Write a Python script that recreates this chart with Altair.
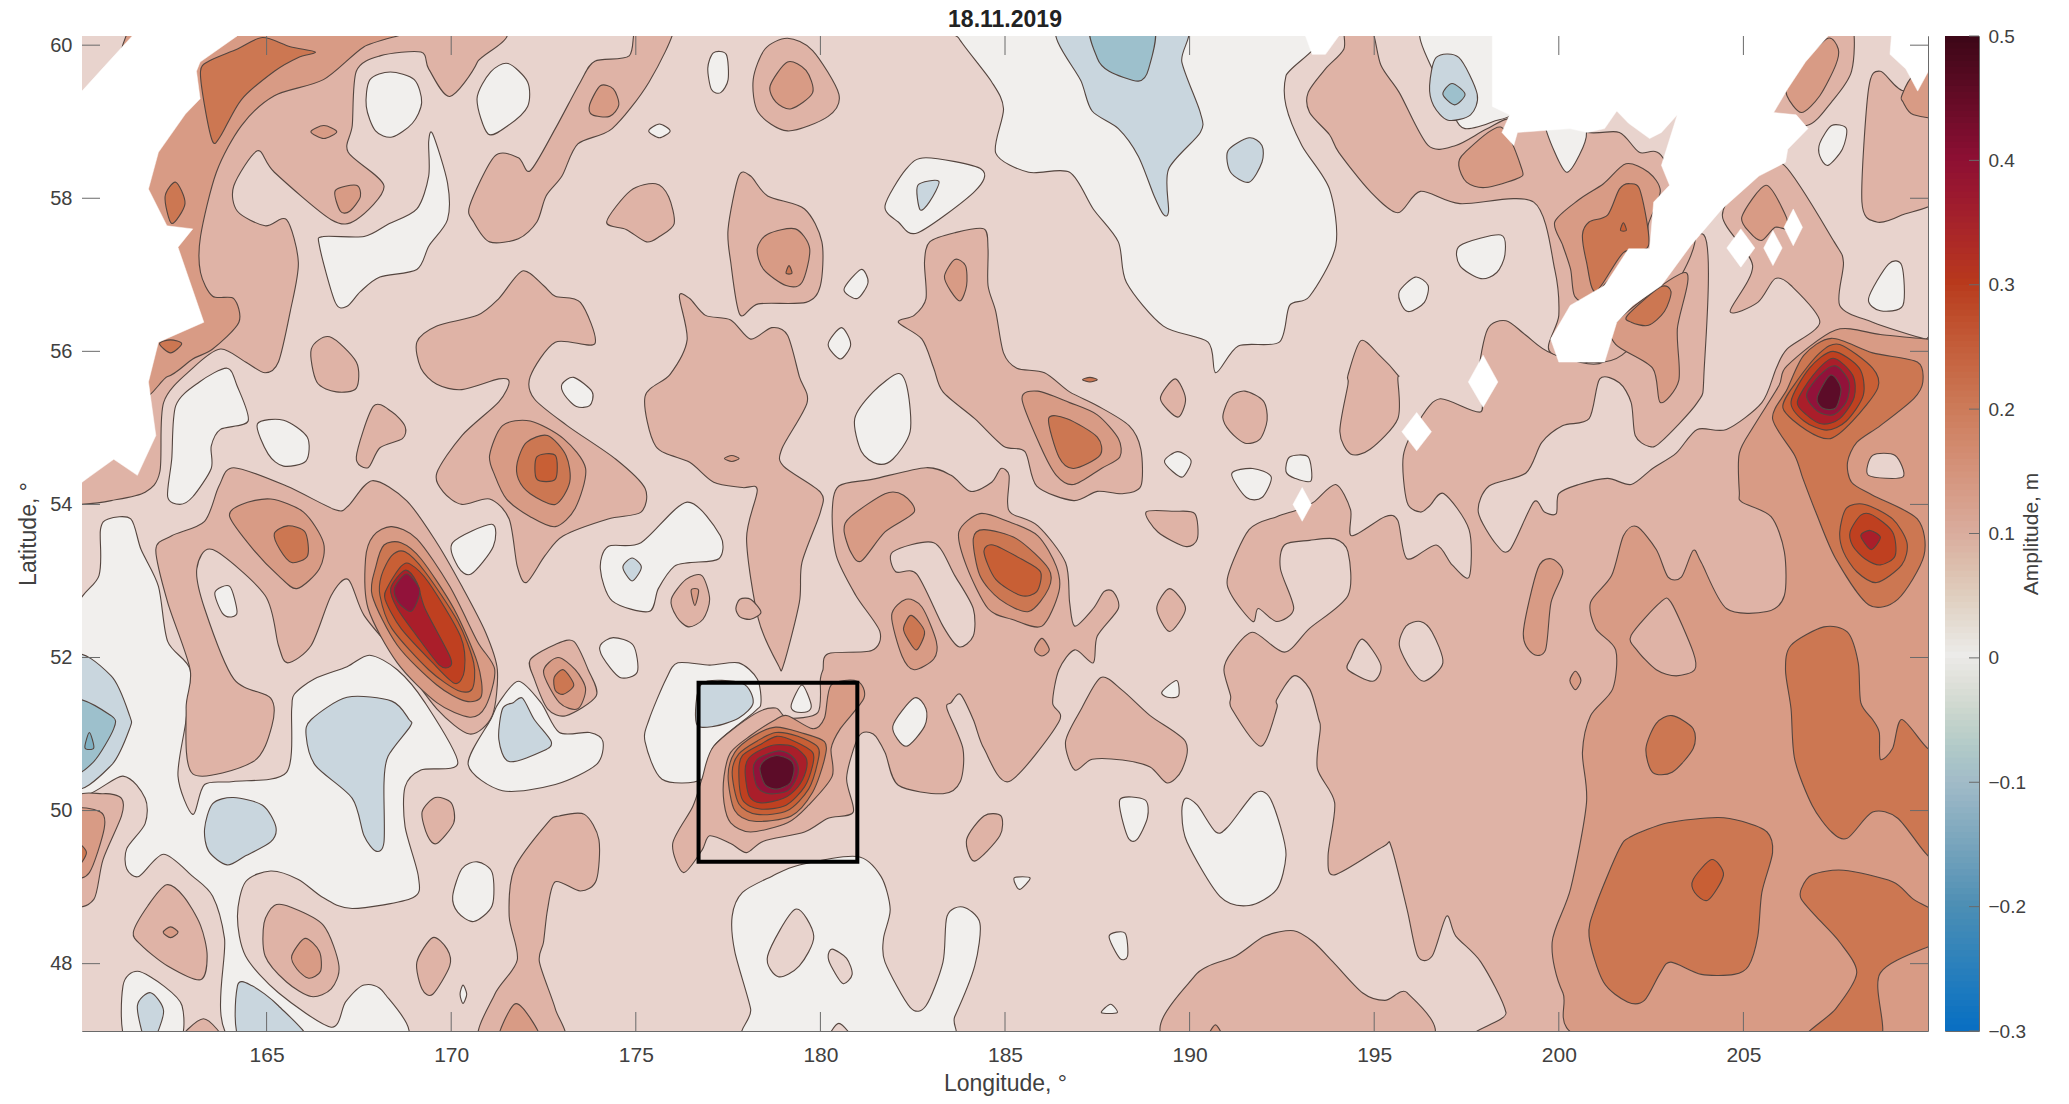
import altair as alt
import pandas as pd

alt.data_transformers.disable_max_rows()

TITLE = "18.11.2019"
LON_TICKS = [165, 170, 175, 180, 185, 190, 195, 200, 205]
LAT_TICKS = [48, 50, 52, 54, 56, 58, 60]
CB_TICKS = [-0.3, -0.2, -0.1, 0, 0.1, 0.2, 0.3, 0.4, 0.5]
CB_STOPS = [-0.3, -0.2, -0.1, 0, 0.1, 0.2, 0.3, 0.4, 0.5]
CB_COLORS = ["#0a6fc2", "#4e8fb4", "#a3bcc8", "#ecebe9", "#d9ab9c", "#cc7a58", "#b8391c", "#8c0f33", "#3a0716"]
BAND_NAMES = ["n15", "n10", "n05", "z00", "p05", "p10", "p15", "p20", "p25", "p30", "p35", "p40", "p45"]
BAND_COLORS = ["#7fb0c2", "#9dc0cc", "#c9d6de", "#f1efed", "#e8d3cd", "#dfb3a6", "#d89b85", "#cc7752", "#c85f35", "#bf4020", "#aa1e2a", "#92123a", "#5c0c28"]
BOX_LON = [176.7, 181.0]
BOX_LAT = [49.33, 51.67]

zero_regions = [
 [(167.8,59.55),(168.35,59.65),(169,59.55),(169.2,59.25),(168.95,58.98),(168.4,58.8),(167.95,58.88),(167.7,59.2)],
 [(170.7,59.3),(171.07,59.65),(171.54,59.76),(172.07,59.52),(172.07,59.2),(171.54,58.95),(171,58.84)],
 [(175.35,58.88),(175.64,58.97),(175.93,58.88),(175.64,58.79)],
 [(176.95,59.7),(177.1,59.9),(177.45,59.88),(177.5,59.55),(177.3,59.38),(177.05,59.42)],
 [(169.5,58.84),(169.9,58.2),(169.9,57.72),(169.4,57.38),(169.07,57.07),(168.07,56.97),(167.54,56.78),(167.18,56.59),(166.86,56.64),(166.43,57.38),(166.54,57.5),(167.64,57.5),(168.29,57.66),(169.07,57.86),(169.39,58.29),(169.39,58.74)],
 [(162.43,54.59),(162.32,54.1),(162.65,54),(163,54.1),(163.5,54.47),(163.5,54.76),(163.75,54.98),(164.5,55.09),(164.2,55.55),(163.93,55.78),(163.18,55.6),(162.54,55.29)],
 [(164.75,55.05),(165.46,55.1),(166.1,54.88),(166.07,54.57),(165.46,54.5),(165.04,54.66)],
 [(173,55.57),(173.32,55.66),(173.82,55.47),(173.75,55.29),(173.39,55.28),(173.07,55.43)],
 [(170.04,53.5),(171.1,53.74),(171.14,53.45),(170.54,53.09),(170.18,53.19)],
 [(163.6,52.85),(164,52.93),(164.2,52.6),(164.05,52.53),(163.8,52.58)],
 [(159.75,52.47),(160.46,53.07),(160.5,53.67),(160.71,53.81),(161.32,53.81),(161.6,53.41),(162.07,52.93),(162.32,52.21),(162.93,51.84),(162.82,51.19),(162.6,50.45),(163,49.95),(163.32,50.34),(164.1,50.38),(165.54,50.5),(165.68,51.33),(165.75,51.52),(166.29,51.72),(167.18,51.88),(167.79,52.03),(168.54,51.84),(169.29,51.41),(170.18,50.62),(169.18,50.53),(168.75,50.31),(168.75,49.79),(169.11,49.14),(168.96,48.86),(167.32,48.72),(166.54,48.86),(165.86,49.1),(165.11,49.21),(164.43,49.07),(164.21,48.62),(164.43,48.1),(165.32,47.62),(166.75,47.17),(167.14,47.5),(167.64,47.72),(168.18,47.62),(168.68,46.98),(164.11,46.98),(163.86,48.33),(163.54,48.88),(163,49.14),(162.21,49.43),(161.54,49.14),(161.21,49.24),(161.21,49.5),(161.71,49.83),(161.71,50.16),(161.11,50.45),(159.75,50.28)],
 [(170.46,50.6),(171.39,50.26),(172.82,50.34),(173.93,50.6),(174.11,50.9),(173.75,51.02),(172.93,51.02),(172.43,51.41),(171.82,51.69),(171.29,51.41),(171.07,51.19)],
 [(161.11,47.71),(161.5,47.9),(162.21,47.71),(162.71,47.45),(162.61,46.98),(161.21,46.98)],
 [(183.75,60.26),(193.14,60.26),(192.61,59.6),(192.61,59.21),(193.04,58.69),(193.79,58.12),(193.96,57.38),(193.25,56.72),(192.71,56.6),(192.43,56.12),(191.32,56.07),(190.71,55.72),(190.5,56.12),(189.29,56.33),(188.29,56.9),(188.07,57.43),(187.39,57.86),(186.75,58.34),(185.64,58.34),(184.75,58.59),(184.96,59.17),(184.64,59.52),(183.75,60.09)],
 [(181.75,57.9),(182.32,58.38),(182.86,58.53),(184.36,58.38),(184.18,58.09),(182.64,57.55),(182.11,57.69)],
 [(180.64,56.81),(181.1,57.07),(181.29,56.9),(181,56.69)],
 [(180.21,56.09),(180.57,56.31),(180.82,56.09),(180.54,55.9)],
 [(180.93,55.12),(181.43,55.47),(182.11,55.71),(182.36,55.5),(182.43,54.95),(181.96,54.59),(181.54,54.53),(181.11,54.69)],
 [(174.04,53.16),(174.25,53.45),(175.14,53.5),(176.39,54.03),(177.29,53.59),(177.25,53.29),(176.46,53.24),(176.04,53.19),(175.61,52.9),(175.36,52.6),(174.36,52.74)],
 [(174.04,52.16),(174.39,52.26),(174.93,52.16),(175.04,51.81),(174.57,51.74),(174.11,52)],
 [(175.82,51.72),(176.14,51.93),(177,51.9),(177.79,51.93),(178.29,51.72),(178.39,51.41),(178.21,51.29),(177.11,50.84),(176.79,50.41),(175.71,50.41),(175.25,50.9),(175.36,51.19)],
 [(179.21,51.38),(179.5,51.64),(179.75,51.38),(179.64,51.29),(179.32,51.29)],
 [(177.61,48.62),(177.89,48.93),(178.68,49.14),(179.43,49.29),(181,49.4),(181.64,49.14),(181.89,48.71),(181.71,48.33),(181.75,48.02),(182.43,47.43),(182.86,47.45),(183.32,48.02),(183.43,48.62),(183.86,48.74),(184.32,48.53),(184.18,47.97),(183.64,47.31),(183.25,46.98),(178.18,46.98),(178.11,47.41),(177.68,48.16)],
 [(189.79,49.98),(189.89,50.16),(190.21,50.07),(190.71,49.72),(191.04,49.79),(191.75,50.22),(192.14,50.19),(192.46,49.79),(192.61,49.41),(192.36,48.97),(191.61,48.76),(190.82,48.88),(189.93,49.59)],
 [(188.11,50.14),(188.79,50.14),(188.86,49.91),(188.57,49.62),(188.32,49.66)],
 [(187.82,48.36),(188.25,48.4),(188.32,48.1),(188.11,48.07)],
 [(185.25,49.12),(185.68,49.12),(185.39,48.97)],
 [(187.61,47.36),(187.86,47.47),(188.04,47.36)],
 [(170.04,48.88),(170.29,49.24),(170.71,49.33),(171.11,49.19),(171.11,48.76),(170.61,48.55),(170.18,48.67)],
 [(170.24,47.6),(170.32,47.72),(170.42,47.6),(170.32,47.48)],
 [(189.32,54.57),(189.68,54.69),(190.04,54.57),(189.82,54.36),(189.54,54.43)],
 [(191.14,54.4),(191.71,54.47),(192.21,54.36),(191.96,54.09),(191.54,54.09)],
 [(192.71,54.62),(193.21,54.62),(193.29,54.31),(192.86,54.34),(192.61,54.43)],
 [(189.25,51.55),(189.65,51.7),(189.7,51.5),(189.4,51.48)],
 [(196.32,60.26),(196.68,59.57),(197.14,59.09),(197.46,58.91),(198.21,59),(198.89,59.21),(198.89,60.26)],
 [(197.32,57.38),(198.43,57.52),(198.54,57.26),(198.32,57.03),(197.89,56.95),(197.32,57.12)],
 [(195.68,56.78),(196.11,56.97),(196.46,56.86),(196.36,56.64),(195.96,56.52),(195.75,56.6)],
 [(207.07,58.72),(207.39,58.95),(207.79,58.91),(207.68,58.64),(207.29,58.43),(207.07,58.55)],
 [(208.39,56.69),(208.93,57.14),(209.29,57.12),(209.32,56.6),(208.71,56.53)],
]

neg05_regions = [
 [(159.75,51.98),(160.79,51.76),(161.29,51.24),(161.29,51.07),(160.79,50.59),(159.75,50.34)],
 [(166.21,51.19),(167.18,51.48),(168.39,51.43),(168.86,51.19),(168.89,51.1),(168.29,50.71),(168.18,50.36),(168.18,49.59),(167.96,49.47),(167.64,49.67),(167.32,50.16),(166.32,50.59),(166.07,50.98)],
 [(163.32,49.76),(163.54,50.09),(164.1,50.17),(164.89,50.07),(165.25,49.79),(165.11,49.59),(164.43,49.41),(163.93,49.29),(163.43,49.47)],
 [(171.93,51.47),(172.25,51.19),(172.71,50.9),(172.5,50.78),(171.57,50.64),(171.29,50.93),(171.39,51.33),(171.68,51.41)],
 [(161.5,47.45),(161.86,47.62),(162.21,47.38),(161.93,46.98),(161.71,46.98)],
 [(164.21,47.71),(164.61,47.71),(165.32,47.45),(166.11,46.98),(164.32,46.98)],
 [(186.46,60.26),(187.07,59.52),(187.36,59.14),(188.07,58.91),(188.61,58.55),(189.04,58.03),(189.29,57.79),(189.43,57.83),(189.43,58.38),(190.29,58.86),(190.29,59.12),(189.79,59.78),(189.79,60.26)],
 [(191.04,58.62),(191.61,58.79),(191.96,58.69),(191.96,58.47),(191.61,58.21),(191.11,58.34)],
 [(182.64,58.17),(183.21,58.22),(182.95,57.95),(182.7,57.85)],
 [(174.65,53.18),(174.9,53.3),(175.15,53.18),(174.9,53.0)],
 [(176.79,51.66),(177.89,51.66),(178.18,51.41),(177.79,51.21),(177.11,51.1),(176.64,51.14)],
 [(196.5,59.47),(196.68,59.84),(197.29,59.84),(197.79,59.36),(197.61,59.09),(197,59.02),(196.61,59.21)],
]

neg10_regions = [
 [(159.75,51.43),(160.79,51.24),(160.86,51.07),(160.32,50.64),(159.75,50.52)],
 [(187.36,60.26),(187.5,59.83),(187.82,59.66),(188.61,59.53),(188.89,59.69),(189,60.26)],
 [(196.86,59.36),(197.11,59.5),(197.46,59.36),(197.18,59.22)],
]

neg15_regions = [
 [(160.08,50.82),(160.2,51.02),(160.32,50.82)],
]

p05_islands = [
 [(178.57,48.1),(179.32,48.71),(179.82,48.36),(179.43,47.97),(178.86,47.83)],
 [(180.21,48.1),(180.32,48.19),(180.71,48.07),(180.86,47.86),(180.61,47.74),(180.29,47.97)],
 [(180.2,46.98),(180.5,47.22),(180.9,46.98)],
]

p10_regions = [
 [(170.82,60.26),(170.71,59.78),(169.96,59.33),(169.39,59.69),(169.18,59.91),(168.07,59.86),(167.43,59.66),(167.32,58.95),(167.21,58.6),(168.18,58.16),(167.43,57.72),(166.75,57.72),(165.21,58.34),(164.75,58.62),(164.11,58.16),(164.21,57.83),(164.96,57.64),(165.54,57.72),(165.86,57.16),(165.64,56.52),(165.32,55.86),(164.96,55.72),(164.43,55.86),(163.75,56.03),(163,55.78),(162.21,55.33),(162.11,54.43),(161.71,54.16),(160.79,54.05),(160,54),(159.57,54),(159.57,60.26)],
 [(170.5,57.9),(171.18,58.55),(171.82,58.53),(172.14,58.36),(172.82,58.91),(173.5,59.52),(173.89,59.79),(174.82,59.86),(175.04,60.26),(176.04,60.26),(175.36,59.52),(174.36,58.91),(173.43,58.71),(173,58.29),(172.57,58.03),(172.32,57.69),(171.82,57.47),(171.04,57.43),(170.61,57.69)],
 [(174.21,57.69),(174.86,58.1),(175.54,58.19),(175.89,58.02),(176.04,57.67),(175.64,57.5),(175.29,57.43),(174.75,57.59)],
 [(166.21,56.03),(166.71,56.19),(167.43,55.86),(167.43,55.52),(166.89,55.47),(166.36,55.6)],
 [(169.07,56.12),(169.61,56.33),(170.71,56.47),(171.29,56.69),(171.93,57.05),(172.5,56.86),(172.82,56.72),(173.5,56.64),(173.89,56.1),(172.82,56.12),(172.14,55.67),(172.25,55.38),(173.14,55.03),(174.46,54.59),(175.25,54.21),(175.14,53.9),(174.25,53.81),(173.04,53.59),(172.54,53.33),(172.04,52.98),(171.79,53.19),(171.57,53.81),(171.04,54.07),(170.29,54),(169.79,54.16),(169.61,54.41),(170.29,54.9),(171.29,55.34),(171.57,55.6),(171.29,55.64),(170.29,55.5),(169.61,55.57),(169.18,55.78)],
 [(162,53.41),(162.43,53.59),(163.32,53.78),(163.71,54.24),(164.11,54.48),(165.54,54.24),(166.86,53.93),(167.21,53.98),(167.86,54.31),(168.79,54.05),(169.61,53.5),(170.29,52.93),(170.93,52.33),(171.25,51.84),(171.11,51.24),(170.5,51),(169.61,51.33),(168.54,52.02),(167.64,52.55),(167.21,53.02),(166.75,52.81),(166.21,52.16),(165.57,51.93),(165.32,52.16),(164.96,52.81),(163.54,53.41),(163.11,53.16),(163.32,52.64),(164.11,51.72),(165.11,51.47),(165.14,51.1),(164.64,50.64),(163,50.48),(162.82,51.33),(162.93,51.84),(162.32,52.72)],
 [(172.14,51.97),(172.82,52.17),(173.32,52.21),(173.71,51.84),(173.93,51.5),(173.11,51.24),(172.61,51.33),(172.25,51.72)],
 [(167.89,55.28),(168.39,55.21),(168.75,55.02),(168.68,54.86),(168.07,54.74),(167.75,54.48),(167.43,54.62)],
 [(159.75,50.1),(160.57,50.22),(161.07,50.16),(161.07,49.93),(160.57,49.36),(160.32,48.84),(159.75,48.84)],
 [(161.39,48.41),(161.79,48.76),(162.29,49.03),(162.75,48.88),(163.21,48.5),(163.39,48.1),(163.21,47.79),(162.32,47.97),(161.61,48.24)],
 [(164.93,48.53),(165.21,48.76),(165.64,48.74),(166.54,48.5),(166.96,47.97),(166.75,47.67),(166.21,47.57),(165.54,47.76),(164.96,48.1)],
 [(169.21,49.98),(169.57,50.17),(170,50.1),(170.07,49.84),(169.61,49.57),(169.36,49.67)],
 [(169.07,48.02),(169.5,48.34),(169.89,48.19),(169.96,47.97),(169.5,47.6),(169.21,47.67)],
 [(170.79,46.98),(171.18,47.6),(171.79,48.05),(171.57,48.62),(171.71,49.24),(172.61,49.84),(172.93,49.93),(173.61,49.95),(174,49.62),(173.93,49.09),(173.5,48.95),(172.82,49.07),(172.61,48.71),(172.5,48.28),(172.39,48.02),(172.82,47.41),(173,46.98)],
 [(162.64,46.98),(163.29,47.28),(163.82,46.98)],
 [(178.18,59.55),(178.5,59.95),(179.11,60.09),(179.79,59.93),(180.5,59.36),(180.21,59.07),(179.11,58.88),(178.32,59.12)],
 [(177.5,57.6),(177.79,58.29),(178.11,58.29),(178.57,58.03),(179.57,57.86),(180.04,57.43),(180,56.86),(179.61,56.64),(178.32,56.62),(177.82,56.48),(177.57,57.17)],
 [(182.11,56.38),(182.54,56.47),(182.86,56.69),(182.82,57.17),(182.96,57.43),(183.64,57.55),(184.43,57.6),(184.54,57.34),(184.54,56.86),(184.75,56.52),(184.96,55.98),(185.32,55.78),(186.07,55.72),(186.75,55.47),(187.5,55.29),(188.36,55.03),(188.68,54.72),(188.68,54.24),(188.18,54.14),(187.5,54.17),(186.86,54.05),(185.86,54.24),(185.54,54.69),(184.96,54.76),(184.18,55.12),(183.32,55.47),(183.07,55.78),(182.75,56.16)],
 [(189.21,55.38),(189.61,55.64),(189.89,55.38),(189.68,55.14)],
 [(190.9,55.14),(191.1,55.4),(191.5,55.48),(192,55.35),(192.1,55.1),(191.9,54.85),(191.5,54.8),(191.1,54.95)],
 [(176.18,56.72),(176.46,56.69),(176.89,56.47),(177.57,56.41),(178.11,56.16),(178.68,56.31),(179.11,56.21),(179.43,55.67),(179.64,55.33),(178.96,54.73),(179,54.5),(180,54.16),(180,53.9),(179.5,53.24),(179.43,52.72),(179,51.9),(178.86,51.9),(178.32,52.5),(178,53.55),(178.29,54.19),(177.89,54.22),(177.11,54.29),(176.46,54.55),(175.54,54.76),(175.25,55.41),(175.93,55.7),(176.39,56.15)],
 [(177.71,52.64),(177.82,52.76),(178.11,52.76),(178.39,52.59),(178.11,52.5),(177.82,52.53)],
 [(175.96,52.76),(176.36,53.02),(176.79,53.07),(177,52.76),(176.82,52.5),(176.43,52.4),(176.11,52.53)],
 [(180.32,53.9),(180.5,54.24),(181.43,54.33),(182.86,54.48),(183.54,54.38),(184.07,54.17),(184.64,54.29),(184.89,54.47),(185.11,54.38),(185.07,54.03),(185.18,53.88),(185.89,53.72),(186.64,53.24),(186.75,52.72),(186.89,52.41),(187.39,52.64),(187.68,52.86),(187.93,52.86),(188.07,52.64),(187.5,52.28),(187.39,51.93),(186.89,52.1),(186.46,51.84),(186.29,51.41),(186.46,51.16),(185.11,50.38),(184.43,50.81),(184.14,51.19),(183.79,51.52),(183.54,51.41),(183.43,51.33),(183.86,50.81),(183.79,50.38),(183.32,50.22),(182.11,50.33),(181.75,50.76),(181.43,51),(181.04,50.97),(180.71,50.43),(180.89,49.98),(180.21,49.9),(179.57,49.72),(178.46,49.6),(178,49.45),(177.57,49.57),(177,49.67),(176.79,49.48),(176.29,49.19),(176,49.57),(176.54,50.05),(176.79,50.41),(177.11,50.84),(178.21,51.26),(178.79,51.34),(179.11,51.21),(179.93,51.28),(180,51.72),(180.07,51.84),(180.21,52.05),(181.39,52.09),(181.61,52.34),(180.96,52.81),(180.43,53.33)],
 [(189.11,52.64),(189.46,52.9),(189.89,52.64),(189.46,52.34)],
 [(188.82,53.9),(189.57,53.91),(190.14,53.88),(190.21,53.55),(189.89,53.45),(189.14,53.64)],
 [(187.6,51.74),(188.18,51.57),(188.93,51.24),(189.89,50.9),(189.79,50.53),(189.39,50.36),(188.93,50.57),(188.18,50.66),(187.36,50.67),(186.89,50.53),(186.64,50.9),(187.07,51.33)],
 [(183.96,49.62),(184.43,49.93),(184.89,49.93),(184.86,49.67),(184.18,49.34)],
 [(189.5,46.98),(190.14,47.84),(191.25,48.1),(192.04,48.36),(192.82,48.43),(193.36,48.28),(193.89,48.02),(194.68,47.62),(195.29,47.52),(195.89,47.62),(196.32,46.98)],
 [(195.79,54.64),(196.25,55.12),(196.79,55.38),(197.89,55.21),(197.82,55.69),(198.07,56.29),(198.57,56.4),(199.11,56.21),(199.79,55.98),(201.21,55.86),(202.07,56.64),(203.93,57.52),(203.93,55.69),(203.75,55.33),(202.75,54.81),(202.43,54.76),(202.07,54.9),(201.96,55.33),(201.64,55.59),(201.11,55.64),(200.82,55.12),(200.11,55.03),(199.54,54.81),(199.11,54.41),(198.11,54.24),(197.82,53.9),(198.32,53.47),(198.68,53.41),(199.32,54.03),(199.61,53.9),(199.93,53.88),(200,54.14),(200.54,54.26),(201.32,54.34),(201.96,54.26),(202.54,54.47),(203.18,54.67),(203.75,54.98),(204.54,54.98),(205.5,55.33),(205.89,55.78),(206.18,56.03),(207.07,56.38),(206.29,56.86),(205.86,56.95),(205.39,56.64),(204.64,56.52),(205.25,57.12),(204.43,57.78),(205.29,58.36),(206.11,58.43),(207.46,57.43),(207.71,57.16),(207.61,56.6),(208.5,56.38),(209.93,56.16),(210.46,56.16),(210.46,46.98),(198.32,46.98),(198.57,47.36),(197.89,48.02),(197.21,48.36),(196.96,48.62),(196.57,48.1),(196.18,48.1),(195.89,48.71),(195.46,49.53),(195.25,49.53),(193.93,49.16),(193.75,49.41),(193.93,50.1),(193.46,50.55),(193.54,51.07),(193.5,51.19),(193.25,51.59),(192.82,51.76),(192.36,51.45),(192.36,51.33),(191.93,50.84),(191.14,51.33),(191.11,51.5),(190.93,51.84),(191.14,52.07),(191.71,52.33),(192.57,52.07),(193.25,52.38),(194.29,52.81),(194.29,53.38),(193.93,53.55),(193.25,53.53),(192.57,53.47),(192.46,53.16),(192.82,52.64),(192.36,52.47),(191.86,52.64),(191.71,52.47),(191.14,52.81),(191.04,53.07),(191.61,53.67),(192.36,53.84),(192.93,53.93),(193.36,54.03),(193.96,54.26),(194.36,53.93),(194.39,53.59),(195.29,53.84),(195.64,53.79),(195.89,53.29),(196.68,53.47),(197.11,53.21),(197.57,53.05),(197.57,53.67),(196.89,54.14),(196.5,53.98),(196.25,53.9),(195.89,54.03)],
 [(193.21,59.38),(193.25,59.12),(193.79,58.83),(194.04,58.6),(194.89,58.09),(195.64,57.81),(196.25,58.09),(197.32,57.93),(199.32,57.95),(199.89,57.07),(200,56.47),(199.79,55.98),(201.71,55.95),(203.68,57.41),(202.82,58.53),(202.18,58.6),(201.64,58.86),(200.75,58.86),(198.86,59.05),(198.07,58.91),(197.21,58.69),(196.46,58.69),(195.68,59.38),(195.18,59.74),(194.89,60.26),(194.21,60.26),(194.18,59.95),(193.68,59.69)],
 [(208.21,57.95),(208.39,59.43),(208.71,59.66),(209.39,59.4),(210.46,59.74),(210.46,58.12),(209.29,57.78),(208.61,57.69)],
 [(207.07,60.26),(207.93,60.26),(207.93,59.66),(207.39,59.26),(206.71,58.95),(205.64,59.14),(206.18,59.57)],
 [(194.29,55.69),(194.64,56.14),(195.14,55.95),(195.64,55.69),(195.64,55.64),(195.64,55.12),(194.89,54.72),(194.36,54.66),(194.07,54.95),(194.29,55.57)],
]

p05_holes = [
 [(159.57,60.26),(161.36,60.26),(161.54,60),(160.82,59.57),(160,59.36),(159.57,59.36)],
 [(181.96,53.38),(183.07,53.5),(183.64,53.07),(184.14,52.64),(184.14,52.28),(183.75,52.14),(183.32,52.41),(182.61,53.09),(182.04,53.12)],
 [(194.36,51.98),(194.68,52.24),(195.18,51.9),(194.96,51.69),(194.29,51.84)],
 [(195.68,52.16),(195.86,52.41),(196.25,52.47),(196.57,52.33),(196.86,51.93),(196.36,51.69),(196,51.84)],
]

zero_holes = [
 [(181.96,51.1),(182.54,51.47),(182.86,51.33),(182.82,51.1),(182.32,50.84)],
 [(199.61,59),(199.89,58.6),(200.21,58.34),(200.54,58.55),(200.75,58.86),(200.43,59.34),(199.79,59.34)],
]

p15_regions = [
 [(168.86,60.26),(167.64,59.98),(166.54,59.55),(165.21,59.34),(164.32,58.95),(163.64,58.34),(163.21,57.5),(163.21,57.03),(163.54,56.72),(164.11,56.69),(164.25,56.38),(163.54,56.03),(163,55.9),(162.32,55.67),(161.36,55.67),(161.36,60.26)],
 [(166.2,58.87),(166.55,58.95),(166.9,58.87),(166.55,58.78)],
 [(166.86,58.1),(167.43,58.17),(167.54,58.02),(167.25,57.83),(167,57.83)],
 [(173.75,59.22),(174.04,59.47),(174.39,59.43),(174.54,59.22),(174.29,59.07),(173.82,59.09)],
 [(171.04,54.64),(171.39,55.03),(172.14,55.09),(173.04,54.86),(173.64,54.47),(173.36,53.95),(172.82,53.71),(172.14,53.84),(171.5,54.07),(171.18,54.38)],
 [(164,53.84),(164.32,54),(165.11,54.07),(166,53.9),(166.54,53.5),(166.43,53.16),(165.82,52.9),(165.32,53.07),(164.64,53.41)],
 [(167.68,53.29),(167.89,53.59),(168.39,53.71),(169.07,53.55),(169.96,52.93),(170.71,52.21),(171.18,51.84),(170.93,51.36),(170.5,51.22),(169.61,51.41),(168.54,51.93),(167.75,52.64)],
 [(172.5,51.81),(172.89,52),(173.36,51.84),(173.64,51.59),(173.43,51.33),(172.93,51.41)],
 [(159.75,49.98),(160.5,49.98),(160.6,49.76),(160.2,49.19),(159.75,49.19)],
 [(162.2,48.41),(162.4,48.48),(162.6,48.41),(162.4,48.34)],
 [(165.68,48.1),(166.04,48.33),(166.43,48.16),(166.46,47.9),(166.14,47.81),(165.82,47.93)],
 [(171.29,46.98),(171.71,47.47),(172.14,47.29),(172.39,46.98)],
 [(178.64,59.47),(179.11,59.78),(179.61,59.67),(179.79,59.38),(179.21,59.17),(178.79,59.26)],
 [(178.29,57.34),(178.57,57.53),(179.32,57.6),(179.71,57.34),(179.5,56.9),(179.07,56.86),(178.46,57.07)],
 [(183.36,56.98),(183.64,57.2),(183.93,57.12),(183.96,56.86),(183.79,56.66),(183.54,56.78)],
 [(185.46,55.38),(185.89,55.48),(186.75,55.33),(187.5,55.17),(188.07,54.86),(188.11,54.62),(187.61,54.47),(186.86,54.26),(186.39,54.38),(185.96,54.76)],
 [(177.4,54.6),(177.6,54.64),(177.8,54.6),(177.6,54.56)],
 [(176.5,52.88),(176.7,52.88),(176.6,52.68)],
 [(180.64,53.67),(180.82,53.84),(181.75,54.14),(182.25,54.12),(182.54,53.9),(181.75,53.64),(181.11,53.26),(180.82,53.38)],
 [(181.93,52.55),(182.32,52.76),(182.75,52.66),(183.14,52.21),(183.07,51.98),(182.54,51.84),(182.21,52.02)],
 [(183.75,53.64),(184.32,53.88),(185.07,53.78),(185.89,53.59),(186.39,53.19),(186.46,52.86),(186,52.41),(185.18,52.5),(184.54,52.64),(183.96,53.19)],
 [(185.8,52.1),(186,52.25),(186.2,52.1),(186,52.02)],
 [(190.46,46.98),(190.7,47.2),(190.93,46.98)],
 [(177.39,50.45),(177.57,50.76),(178.11,50.98),(178.79,51.19),(179.11,51.24),(179.79,51.07),(180.11,51.21),(180.29,51.64),(181,51.69),(181.18,51.47),(180.54,51.07),(180.29,50.81),(180.32,50.45),(179.68,50.07),(179.11,49.84),(178.11,49.72),(177.57,49.84),(177.39,50.1)],
 [(199.04,52.33),(199.43,53.16),(199.79,53.29),(200.11,53.12),(199.79,52.72),(199.64,52.1),(199.29,52.05)],
 [(200.3,51.7),(200.45,51.82),(200.6,51.7),(200.45,51.58)],
 [(197.29,58.43),(197.46,58.6),(198.43,58.93),(199,58.38),(198.89,58.26),(198,58.14),(197.5,58.21)],
 [(199.89,57.69),(200.54,57.98),(201.21,58.19),(201.82,58.45),(202.43,58.34),(202.75,58.09),(202.43,57.67),(202.32,57.38),(201.21,56.86),(200.86,56.62),(200.43,56.72),(200.32,57.07),(200.11,57.38)],
 [(201.54,56.38),(203.43,57.03),(203.21,56.29),(203.25,55.62),(202.75,55.33),(202.54,55.78),(201.54,56.09)],
 [(204.96,57.76),(205.61,58.17),(206.11,57.81),(206.21,57.6),(205.86,57.62),(205.5,57.45),(205.18,57.55)],
 [(209.29,59.34),(209.61,59.6),(210.46,59.69),(210.46,59.09),(209.61,59.09),(209.32,59.26)],
 [(206.18,59.57),(206.61,59.78),(207.29,60.09),(207.57,59.95),(207.5,59.74),(207.07,59.34),(206.57,59.12),(206.18,59.34)],
 [(204.89,54.67),(205.29,55.03),(205.96,55.55),(206.18,55.81),(207.5,56.28),(208.71,56.22),(210,56.16),(210.46,56.16),(210.46,46.98),(201.11,46.98),(200.11,47.62),(199.82,48.28),(200.32,48.98),(200.75,50.1),(200.64,50.76),(200.86,51.24),(201.46,51.59),(201.54,52.1),(201,52.38),(200.86,52.72),(201.43,53.07),(201.75,53.59),(202.11,53.71),(202.64,53.41),(202.96,53.05),(203.32,53.05),(203.64,53.4),(203.86,53.24),(204.54,52.64),(205.64,52.6),(206.11,52.81),(206.11,53.38),(205.75,53.84),(204.96,54.03),(204.89,54.16)],
]

p10_holes = [
 [(201.96,52.29),(202.75,52.72),(203.04,52.72),(203.64,52.07),(203.68,51.84),(203.18,51.76),(202.64,51.84),(202.11,52.1)],
]

p05_holes_late = [
 [(208.39,54.38),(208.5,54.64),(209.11,54.64),(209.32,54.36)],
]

p20_regions = [
 [(163.21,59.66),(163.43,59.79),(164.21,59.95),(164.89,60.1),(165.64,59.98),(166.32,59.91),(165.86,59.84),(165.21,59.66),(164.32,59.29),(163.75,58.81),(163.54,58.74),(163.32,59.21)],
 [(162.25,58.02),(162.54,58.21),(162.79,57.93),(162.43,57.67)],
 [(162.1,56.1),(162.4,56.15),(162.7,56.1),(162.4,55.98)],
 [(171.79,54.55),(172.04,54.81),(172.61,54.9),(173.11,54.64),(173.21,54.29),(172.82,54),(172.14,54.14),(171.82,54.33)],
 [(165.21,53.62),(165.57,53.72),(166.04,53.64),(166.11,53.33),(165.68,53.24),(165.36,53.41)],
 [(167.96,53.19),(168.18,53.47),(168.64,53.5),(169.18,53.29),(170.07,52.64),(170.71,51.93),(170.82,51.5),(170.39,51.43),(169.61,51.64),(168.54,52.16),(167.86,52.81)],
 [(172.79,51.74),(173.04,51.84),(173.32,51.64),(173.04,51.52),(172.82,51.57)],
 [(159.75,49.6),(160.12,49.45),(159.75,49.2)],
 [(186.18,55.12),(186.68,55.12),(187.5,54.88),(187.57,54.64),(186.86,54.47),(186.46,54.62)],
 [(182.25,52.38),(182.46,52.55),(182.82,52.34),(182.61,52.1),(182.39,52.22)],
 [(184.14,53.55),(184.43,53.67),(185.32,53.55),(186.18,53.16),(186.18,52.9),(185.64,52.6),(184.86,52.76),(184.32,53.07)],
 [(187.1,55.63),(187.3,55.66),(187.5,55.63),(187.3,55.6)],
 [(179.07,57.02),(179.15,57.12),(179.23,57.02)],
 [(177.5,50.45),(177.68,50.76),(178.21,50.98),(178.79,51.09),(179.46,51.02),(180.11,50.9),(180.11,50.67),(179.79,50.24),(179.21,49.93),(178.21,49.86),(177.68,50)],
 [(201.86,56.47),(202.75,56.84),(203.04,56.78),(202.86,56.52),(202.43,56.34),(201.96,56.38)],
 [(200.64,57.52),(200.82,57.69),(201.32,57.78),(201.64,58.12),(201.93,58.19),(202.21,58.09),(202.43,57.38),(201.75,57.29),(201,56.78),(200.75,57.17)],
 [(206.14,51.84),(206.29,52.16),(207.18,52.4),(207.82,52.33),(208.11,51.93),(208.18,51.41),(208.5,51.19),(208.68,51.02),(208.71,50.67),(209.04,50.81),(209.29,51.19),(210,50.81),(210.46,50.81),(210.46,49.4),(210,49.41),(209.18,49.9),(208.5,49.98),(207.82,49.64),(207.39,49.72),(206.86,50.07),(206.39,50.67),(206.29,51.33)],
 [(200.82,48.36),(201,48.76),(201.64,49.5),(201.96,49.66),(202.96,49.84),(204.29,49.91),(204.96,49.86),(205.64,49.72),(205.79,49.45),(205.5,48.93),(205.39,48.36),(205.14,47.97),(204.75,47.86),(203.86,47.86),(203.04,48.02),(202.75,47.88),(202.32,47.52),(201.86,47.5),(201.21,47.76)],
 [(202.36,50.81),(202.64,51.14),(203.07,51.24),(203.64,51.07),(203.64,50.81),(203.07,50.5),(202.54,50.5)],
 [(206.57,48.98),(206.86,49.16),(207.71,49.22),(209.04,49.07),(209.61,48.84),(210.46,48.6),(210.46,48.33),(208.71,47.88),(208.68,46.98),(206.61,46.98),(207.5,47.41),(208.07,47.88),(207.61,48.28),(206.96,48.62),(206.57,48.84)],
 [(205.79,55.12),(206.18,55.5),(206.64,55.95),(207.39,56.17),(208.5,55.98),(209.71,55.86),(209.86,55.6),(209.61,55.38),(208.71,55.03),(208.07,54.81),(207.82,54.55),(207.93,54.29),(208.5,54.12),(209.71,53.81),(209.89,53.33),(209.18,52.76),(208.39,52.69),(207.5,53.29),(206.96,53.9),(206.61,54.34),(206.39,54.64)],
]

p25_regions = [
 [(172.32,54.62),(172.82,54.64),(172.82,54.33),(172.32,54.33)],
 [(168.11,53.07),(168.39,53.33),(168.75,53.38),(169.29,53.12),(170.18,52.47),(170.61,51.93),(170.57,51.59),(170.18,51.57),(169.39,51.84),(168.39,52.38),(168.07,52.81)],
 [(184.43,53.38),(184.68,53.47),(185.43,53.29),(185.96,53.12),(185.86,52.86),(185.43,52.81),(184.75,53.02)],
 [(177.61,50.5),(177.79,50.74),(178.29,50.91),(178.79,51.02),(179.39,50.97),(179.93,50.83),(179.93,50.64),(179.68,50.28),(179.11,50),(178.29,49.95),(177.79,50.09)],
 [(201.67,57.58),(201.75,57.68),(201.83,57.58)],
 [(203.64,49.1),(204.14,49.36),(204.46,49.16),(204.04,48.83),(203.68,48.93)],
 [(206.07,55.26),(206.43,55.6),(207.07,55.98),(207.61,56.09),(208.5,55.78),(208.64,55.52),(207.96,55.09),(207.36,54.86),(206.71,54.97)],
 [(207.61,53.64),(207.79,53.95),(208.29,54),(209.04,53.81),(209.43,53.5),(209.29,53.21),(208.61,52.98),(208.07,53.12),(207.71,53.38)],
]

p30_regions = [
 [(168.29,52.93),(168.64,53.19),(168.89,53.22),(169.39,52.98),(170.25,52.28),(170.36,51.84),(170.11,51.66),(169.5,51.93),(168.64,52.38),(168.21,52.76)],
 [(177.79,50.52),(177.89,50.72),(178.36,50.86),(178.82,50.97),(179.32,50.9),(179.79,50.76),(179.79,50.59),(179.57,50.31),(179.07,50.07),(178.36,50.02),(177.89,50.14)],
 [(206.29,55.34),(206.79,55.78),(207.43,56),(208.14,55.78),(208.25,55.43),(207.79,55.09),(207.25,54.97),(206.64,55.09)],
 [(207.89,53.64),(208.18,53.86),(208.5,53.86),(209.04,53.64),(209.11,53.33),(208.71,53.21),(208.29,53.29),(207.96,53.46)],
]

p35_regions = [
 [(168.36,52.9),(168.75,53.14),(169.07,52.98),(169.29,52.64),(169.96,52.02),(169.96,51.88),(169.68,51.9),(169.07,52.28),(168.54,52.64)],
 [(177.96,50.52),(178.07,50.69),(178.46,50.81),(178.82,50.86),(179.29,50.83),(179.61,50.69),(179.61,50.52),(179.39,50.31),(179,50.16),(178.39,50.1),(178.07,50.19)],
 [(206.46,55.34),(206.89,55.69),(207.43,55.91),(207.96,55.69),(208,55.4),(207.61,55.12),(207.14,55.05),(206.71,55.17)],
 [(208.18,53.59),(208.43,53.66),(208.71,53.57),(208.46,53.41)],
]

p40_regions = [
 [(168.46,52.9),(168.79,53.09),(169.14,52.9),(169.07,52.72),(168.89,52.6),(168.57,52.72)],
 [(178.18,50.55),(178.29,50.67),(178.57,50.74),(178.89,50.78),(179.21,50.72),(179.39,50.59),(179.36,50.43),(179.11,50.26),(178.61,50.22),(178.29,50.31)],
 [(206.71,55.43),(207.07,55.69),(207.5,55.81),(207.86,55.6),(207.79,55.34),(207.43,55.17),(207,55.22)],
]

p45_regions = [
 [(178.36,50.55),(178.5,50.66),(178.82,50.72),(179.18,50.66),(179.29,50.55),(179.18,50.36),(178.82,50.28),(178.5,50.34)],
 [(207,55.4),(207.36,55.69),(207.64,55.52),(207.5,55.26),(207.14,55.26)],
]

nodata_regions = [
 [(160,59.4),(160.64,59.74),(161.36,60.12),(164.2,60.12),(163.2,59.78),(163.1,59.66),(163.2,59.3),(162.8,59.1),(162.07,58.6),(161.8,58.12),(162.3,57.64),(163,57.6),(162.6,57.36),(163.3,56.38),(162.07,56.12),(161.8,55.6),(162,54.9),(161.5,54.38),(160.86,54.59),(160.2,54.36),(160,54.29)],
 [(198.2,60.12),(198.2,59.2),(198.67,59.09),(198.46,58.86),(198.78,58.69),(198.88,58.86),(200.3,58.91),(200.78,58.86),(201.24,58.91),(201.57,59.14),(201.89,58.98),(202.46,58.78),(202.78,58.86),(203.21,59.09),(202.78,58.43),(203,58.17),(202.57,57.95),(202.46,57.34),(201.89,57.34),(201.24,56.86),(200.31,56.6),(199.78,56.16),(200,55.86),(201.24,55.86),(201.57,56.38),(202,56.6),(202.78,56.86),(203.57,57.38),(204.42,57.86),(205.42,58.29),(206.14,58.47),(206.2,58.64),(206.75,58.91),(206.43,59.09),(205.82,59.12),(206.2,59.43),(206.68,59.78),(207.29,60.12)],
 [(209.01,60.12),(208.97,59.88),(209.4,59.69),(209.72,59.4),(210,59.65),(210,60.12)],
 [(193.14,60.12),(194.04,60.12),(193.68,59.88),(193.32,59.88)],
 [(204.55,57.35),(204.93,57.6),(205.31,57.35),(204.93,57.1)],
 [(205.55,57.35),(205.8,57.58),(206.05,57.35),(205.8,57.12)],
 [(206.1,57.62),(206.35,57.86),(206.6,57.62),(206.35,57.38)],
 [(197.55,55.6),(197.95,55.95),(198.35,55.6),(197.95,55.27)],
 [(195.75,54.95),(196.15,55.2),(196.55,54.95),(196.15,54.7)],
 [(192.8,54),(193.05,54.22),(193.3,54),(193.05,53.78)],
]

paint_order = [
 ("z00", zero_regions), ("n05", neg05_regions), ("n10", neg10_regions), ("n15", neg15_regions),
 ("p05", p05_islands), ("p10", p10_regions), ("p05", p05_holes), ("z00", zero_holes),
 ("p15", p15_regions), ("p10", p10_holes), ("p05", p05_holes_late), ("p20", p20_regions),
 ("p25", p25_regions), ("p30", p30_regions), ("p35", p35_regions), ("p40", p40_regions), ("p45", p45_regions),
]

rows = []
pid = 0
for band, group in paint_order:
    for poly in group:
        pid += 1
        for seq, (lon, lat) in enumerate(poly):
            rows.append({"pid": f"{pid:04d}", "seq": seq, "band": band, "lon": lon, "lat": lat})
contour_df = pd.DataFrame(rows)

rows = []
for i, poly in enumerate(nodata_regions):
    for seq, (lon, lat) in enumerate(poly):
        rows.append({"pid": f"n{i:03d}", "seq": seq, "lon": lon, "lat": lat})
nodata_df = pd.DataFrame(rows)

W, H = 1846, 995
FONT = "Liberation Sans"
TXT = "#404040"
AX = "#6a6a6a"

xs = alt.Scale(domain=[160, 210], nice=False, zero=False)
ys = alt.Scale(domain=[47.12, 60.12], nice=False, zero=False)
xenc = alt.X("lon:Q", scale=xs, axis=alt.Axis(values=LON_TICKS, title="Longitude, °", grid=False, ticks=False, domain=False, labelFontSize=21, titleFontSize=23, labelFont=FONT, titleFont=FONT, titleFontWeight="normal", labelColor=TXT, titleColor=TXT, labelPadding=13, titlePadding=7, labelFlush=False))
yenc = alt.Y("lat:Q", scale=ys, axis=alt.Axis(values=LAT_TICKS, title="Latitude, °", grid=False, ticks=False, domain=False, labelFontSize=20, titleFontSize=23, labelFont=FONT, titleFont=FONT, titleFontWeight="normal", labelColor=TXT, titleColor=TXT, labelPadding=10, titlePadding=9, format="d"))

base = alt.Chart(pd.DataFrame({"a": [0]})).mark_rect(color=BAND_COLORS[4]).encode(
    x=alt.value(0), x2=alt.value(W), y=alt.value(0), y2=alt.value(H))

contours = alt.Chart(contour_df).mark_line(
    interpolate="cardinal-closed", tension=0.15, stroke="#54453f", strokeWidth=1.1,
    clip=True, filled=True, strokeJoin="round"
).encode(
    x=xenc, y=yenc,
    fill=alt.Fill("band:N", scale=alt.Scale(domain=BAND_NAMES, range=BAND_COLORS), legend=None),
    detail="pid:N", order=alt.Order("seq:Q"),
)

nodata = alt.Chart(nodata_df).mark_line(
    interpolate="linear-closed", stroke="white", strokeWidth=0.5, fill="white", clip=True
).encode(x=alt.X("lon:Q", scale=xs), y=alt.Y("lat:Q", scale=ys), detail="pid:N", order=alt.Order("seq:Q"))

lon_df = pd.DataFrame({"lon": LON_TICKS})
lat_df = pd.DataFrame({"lat": LAT_TICKS})
tick_bottom = alt.Chart(lon_df).mark_rule(color=AX, strokeWidth=1).encode(x=alt.X("lon:Q", scale=xs), y=alt.value(H), y2=alt.value(H - 19))
tick_top = alt.Chart(lon_df).mark_rule(color=AX, strokeWidth=1).encode(x=alt.X("lon:Q", scale=xs), y=alt.value(0), y2=alt.value(19))
tick_left = alt.Chart(lat_df).mark_rule(color=AX, strokeWidth=1).encode(y=alt.Y("lat:Q", scale=ys), x=alt.value(0), x2=alt.value(18))
tick_right = alt.Chart(lat_df).mark_rule(color=AX, strokeWidth=1).encode(y=alt.Y("lat:Q", scale=ys), x=alt.value(W), x2=alt.value(W - 18))

box = alt.Chart(pd.DataFrame({"x0": [BOX_LON[0]], "x1": [BOX_LON[1]], "y0": [BOX_LAT[0]], "y1": [BOX_LAT[1]]})).mark_rect(
    fill=None, stroke="black", strokeWidth=4
).encode(x=alt.X("x0:Q", scale=xs), x2="x1:Q", y=alt.Y("y0:Q", scale=ys), y2="y1:Q")

main = alt.layer(base, contours, nodata, tick_bottom, tick_top, tick_left, tick_right, box).properties(
    width=W, height=H,
    title=alt.TitleParams(TITLE, font=FONT, fontSize=23, fontWeight="bold", color="#222222", anchor="middle", offset=3),
)

# colour bar
cb_lo = [round(-0.3 + i * 0.005, 3) for i in range(160)]
cb_df = pd.DataFrame({"lo": cb_lo, "hi": [round(min(v + 0.0075, 0.5), 4) for v in cb_lo]})
cb_y = alt.Scale(domain=[-0.3, 0.5], nice=False, zero=False)
cb_rect = alt.Chart(cb_df).mark_rect(strokeWidth=0).encode(
    y=alt.Y("lo:Q", scale=cb_y, axis=alt.Axis(orient="right", values=CB_TICKS, title="Amplitude, m", titleAngle=270, ticks=False, domain=False, grid=False, labelFontSize=19, titleFontSize=21, labelFont=FONT, titleFont=FONT, titleFontWeight="normal", labelColor=TXT, titleColor=TXT, labelPadding=9, titlePadding=16, labelFlush=False, format=".1~f")),
    y2="hi:Q",
    fill=alt.Fill("lo:Q", scale=alt.Scale(domain=CB_STOPS, range=CB_COLORS), legend=None),
)
cb_ticks = alt.Chart(pd.DataFrame({"v": CB_TICKS})).mark_rule(color=AX, strokeWidth=1).encode(
    y=alt.Y("v:Q", scale=cb_y), x=alt.value(34), x2=alt.value(24))
cbar = alt.layer(cb_rect, cb_ticks).properties(width=34, height=H)

chart = alt.hconcat(main, cbar, spacing=15).properties(
    padding={"left": 9, "top": 0, "right": 0, "bottom": 0}
).configure_view(stroke=AX, strokeWidth=1)

chart.save("out.html", embed_options={"renderer": "svg", "actions": False})
